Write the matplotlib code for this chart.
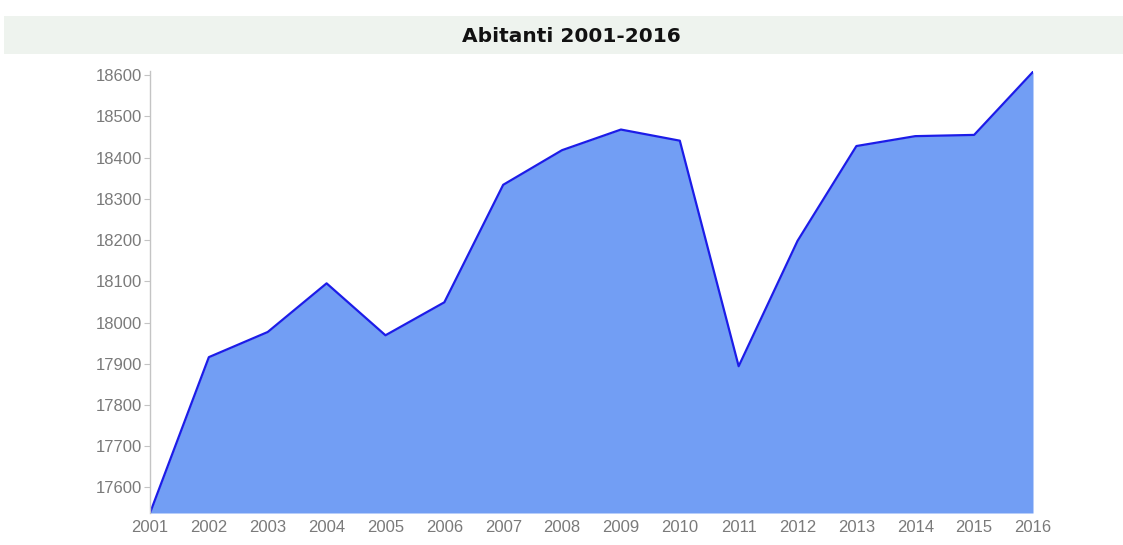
import matplotlib
matplotlib.use("Agg")
import matplotlib.pyplot as plt
from matplotlib.patches import Rectangle

years = [2001, 2002, 2003, 2004, 2005, 2006, 2007, 2008,
         2009, 2010, 2011, 2012, 2013, 2014, 2015, 2016]
abitanti = [17538, 17916, 17977, 18095, 17969, 18049, 18334, 18418,
            18468, 18441, 17894, 18198, 18428, 18452, 18455, 18608]
y_ticks = [17600, 17700, 17800, 17900, 18000, 18100, 18200, 18300,
           18400, 18500, 18600]
title = "Abitanti 2001-2016"

W, H = 1123, 545
fig = plt.figure(figsize=(W / 100, H / 100), dpi=100)
fig.patch.set_facecolor("white")

# title band across the top
fig.patches.append(Rectangle((4 / W, (H - 54) / H), 1 - 4 / W, 38 / H,
                             transform=fig.transFigure, facecolor="#eef3ee",
                             edgecolor="none", zorder=0))
fig.text(571 / W, (H - 36) / H, title, ha="center", va="center",
         fontsize=14.5, fontweight="bold", color="#111111",
         family=["DejaVu Sans"])

ax = fig.add_axes([150 / W, (H - 513) / H, (1033 - 150) / W, (513 - 71) / H])
ax.fill_between(years, abitanti, 17538, color="#729ef4", linewidth=0, zorder=1)
ax.plot(years, abitanti, color="#1c1ce8", linewidth=1.6, zorder=2)

ax.set_xlim(years[0], years[-1])
ax.set_ylim(17538, 18610)
ax.set_xticks(years)
ax.set_xticklabels([str(y) for y in years])
ax.set_yticks(y_ticks)
ax.set_yticklabels([str(v) for v in y_ticks])

for side in ("top", "right", "bottom"):
    ax.spines[side].set_visible(False)
ax.spines["left"].set_color("#c4c4c4")
ax.spines["left"].set_linewidth(1.0)

ax.tick_params(axis="y", length=4, width=0.8, color="#c4c4c4", pad=2,
               labelsize=12, labelcolor="#7a7a7a")
ax.tick_params(axis="x", length=0, pad=5, labelsize=12, labelcolor="#7a7a7a")
for lab in ax.get_xticklabels() + ax.get_yticklabels():
    lab.set_family(["Liberation Sans", "DejaVu Sans"])

fig.savefig("out.png", dpi=100)
